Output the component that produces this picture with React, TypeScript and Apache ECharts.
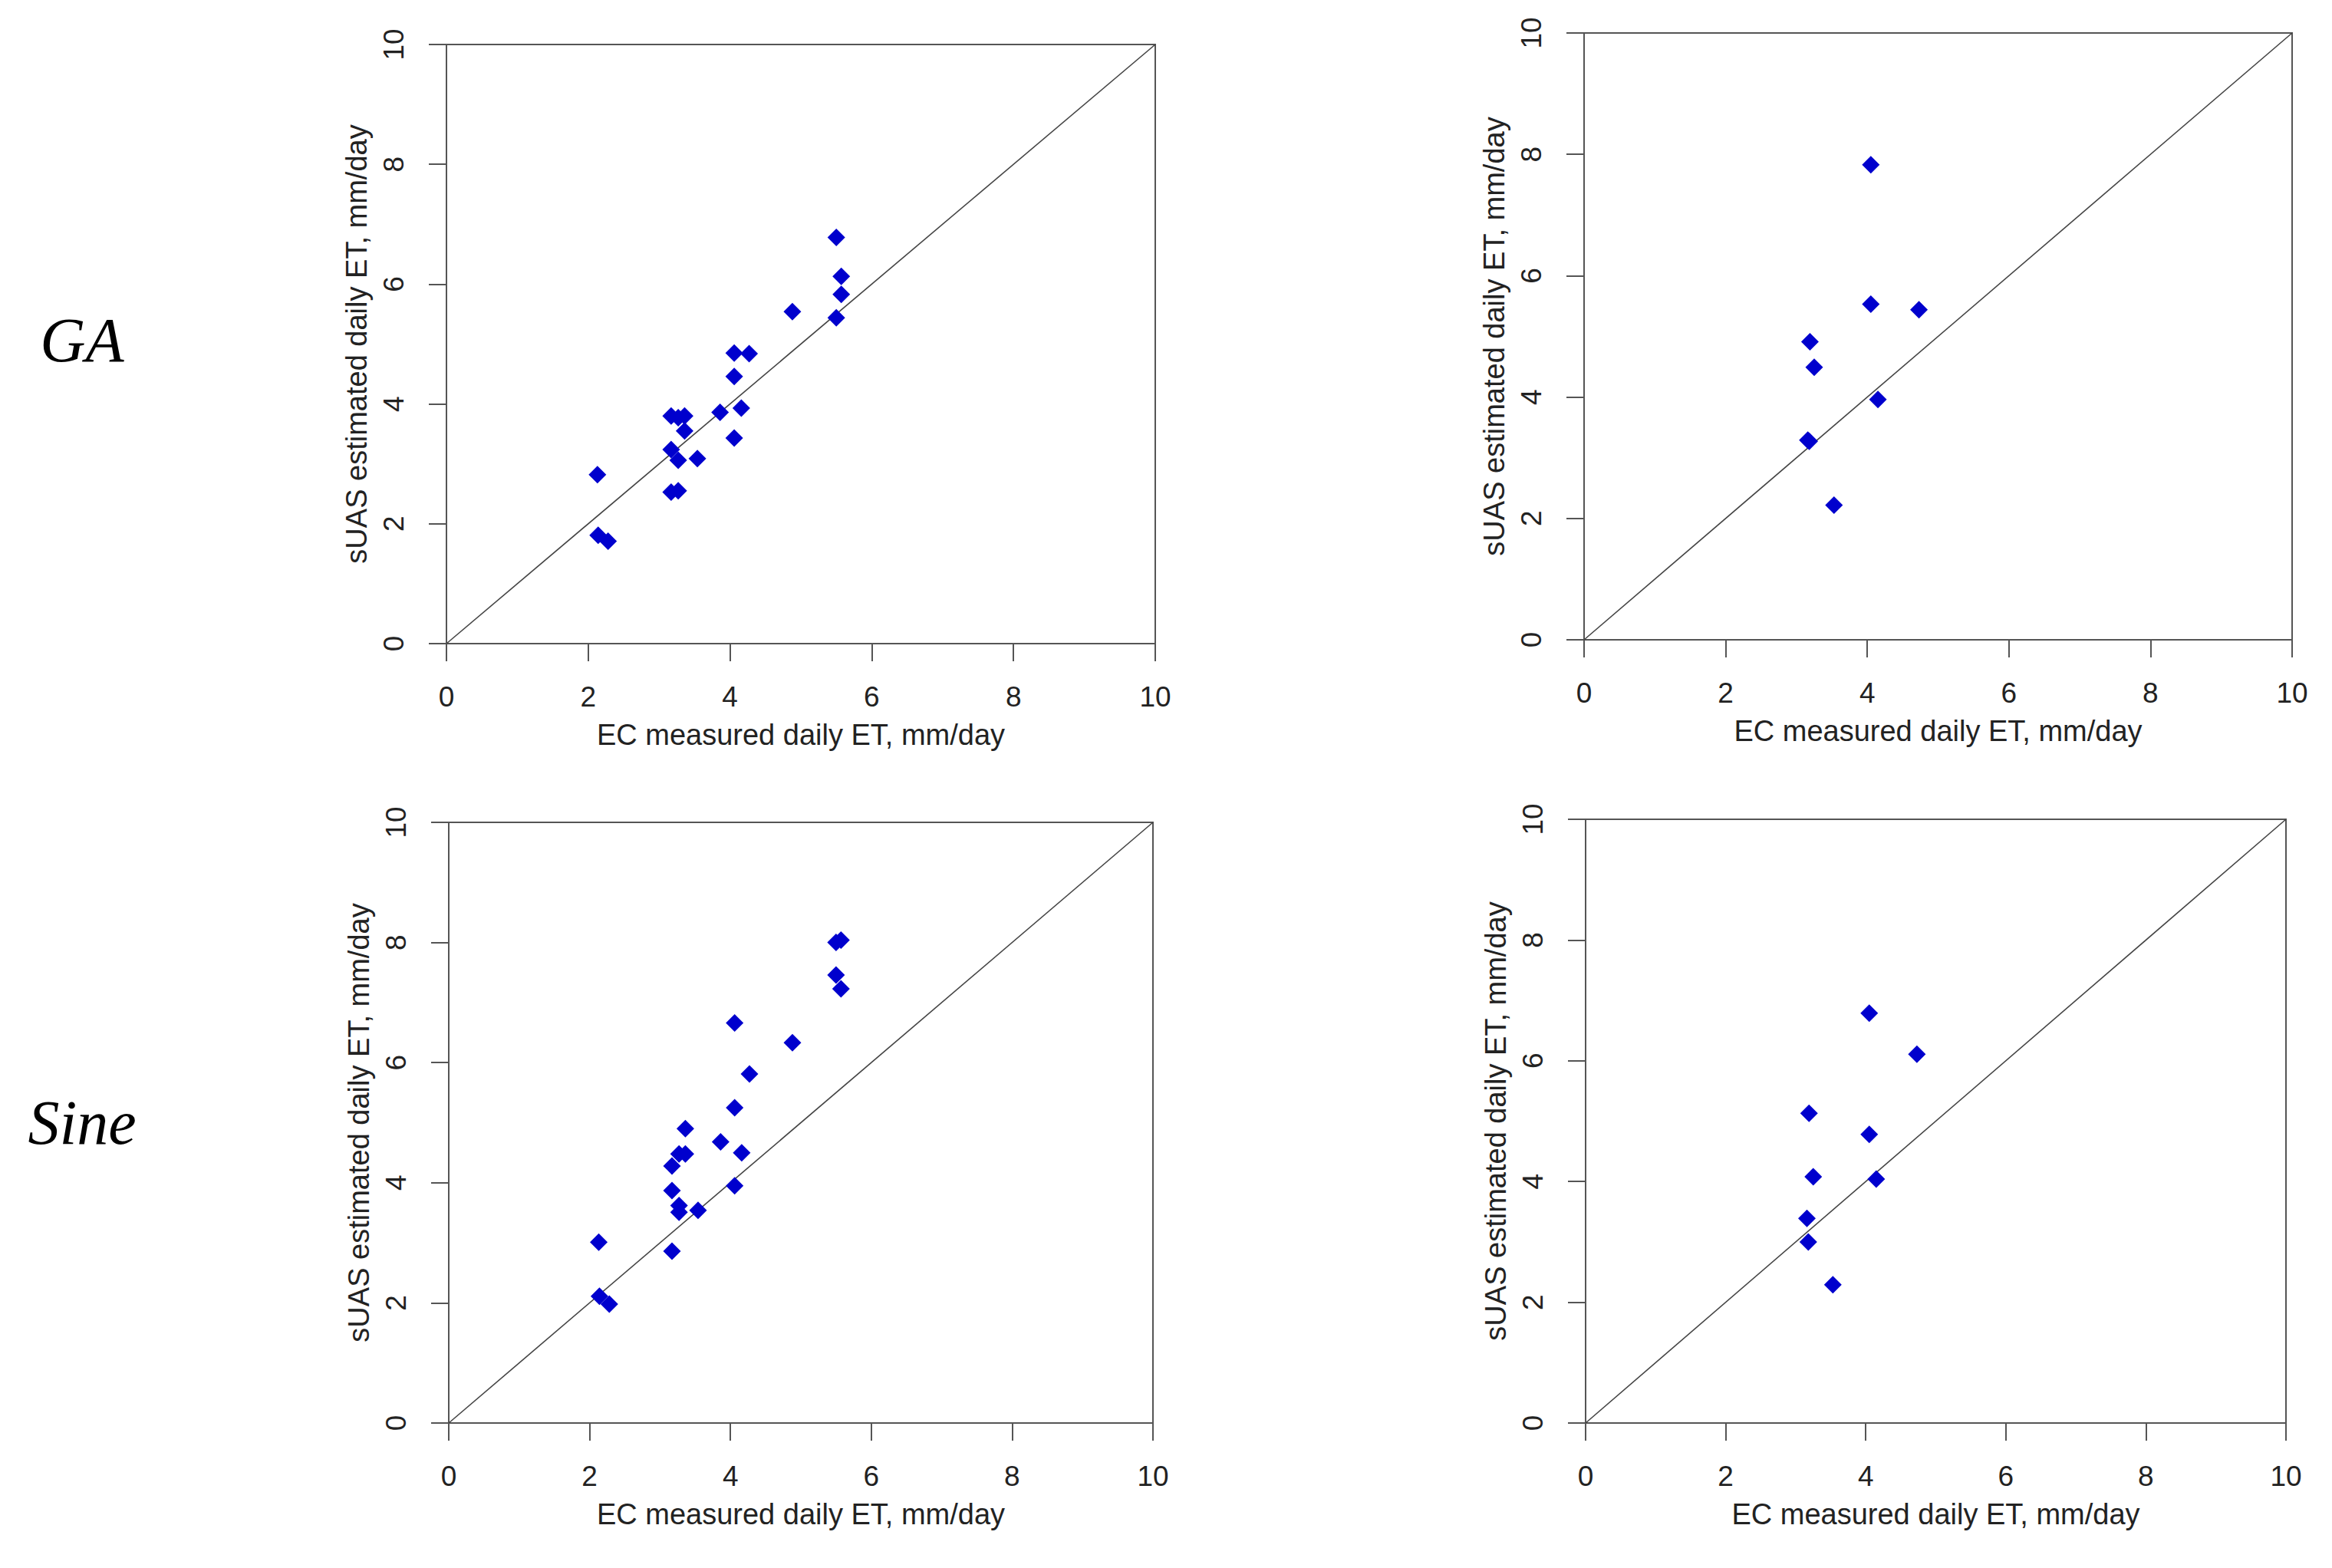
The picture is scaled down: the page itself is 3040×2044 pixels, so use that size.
import React, { useEffect, useRef } from "react";
import * as echarts from "echarts";

// EC measured daily ET (mm/day), left-hand panels
const ecLeft = [5.5, 5.5, 5.57, 5.57, 4.88, 4.06, 4.06, 4.06, 4.27, 3.86, 4.16, 3.17, 3.17, 3.17, 3.27, 3.27, 3.27, 3.36, 3.36, 3.54, 2.13, 2.14, 2.28];
// sUAS estimated daily ET, GA model, left panel
const gaLeft = [6.78, 5.44, 6.13, 5.83, 5.54, 4.85, 4.46, 3.43, 4.84, 3.86, 3.93, 3.8, 3.24, 2.53, 3.77, 3.06, 2.55, 3.8, 3.55, 3.09, 2.82, 1.81, 1.71];
// sUAS estimated daily ET, Sine model, left panel
const sineLeft = [8.0, 7.46, 8.04, 7.23, 6.33, 6.66, 5.25, 3.95, 5.81, 4.68, 4.5, 4.28, 3.87, 2.86, 4.48, 3.62, 3.51, 4.9, 4.48, 3.54, 3.01, 2.11, 1.98];

// EC measured daily ET (mm/day), right-hand panels
const ecRight = [4.05, 4.05, 4.73, 3.19, 3.25, 4.15, 3.16, 3.18, 3.53];
const gaRight = [7.83, 5.53, 5.44, 4.91, 4.49, 3.96, 3.29, 3.27, 2.22];
const sineRight = [6.79, 4.78, 6.11, 5.13, 4.08, 4.04, 3.39, 3.0, 2.29];

// 1:1 reference line
const oneToOne = [[0, 0], [10, 10]];

const rowLabels = ["GA", "Sine"];
const xTitle = "EC measured daily ET, mm/day";
const yTitle = "sUAS estimated daily ET, mm/day";

const FONT = "Liberation Sans, Arial, sans-serif";
const AXIS_COLOR = "#555";
const TEXT_COLOR = "#222";
const POINT_COLOR = "#0000CD";

const grids = [
  { left: 582, top: 58, width: 924, height: 781 },
  { left: 2065, top: 43, width: 923, height: 791 },
  { left: 585, top: 1072, width: 918, height: 783 },
  { left: 2067, top: 1068, width: 913, height: 787 },
];

const panels = [
  { x: ecLeft, y: gaLeft },
  { x: ecRight, y: gaRight },
  { x: ecLeft, y: sineLeft },
  { x: ecRight, y: sineRight },
];

export default function App() {
  const ref = useRef<HTMLDivElement>(null);

  useEffect(() => {
    document.body.style.margin = "0";
    if (!ref.current) return;
    const chart = echarts.init(ref.current, undefined, { renderer: "svg" });

    const axisCommon = {
      type: "value" as const,
      min: 0,
      max: 10,
      interval: 2,
      nameLocation: "middle" as const,
      nameTextStyle: { fontFamily: FONT, fontSize: 38, color: TEXT_COLOR, lineHeight: 38 },
      axisLine: { show: true, onZero: false, lineStyle: { color: AXIS_COLOR, width: 2 } },
      axisTick: { show: true, inside: false, length: 23, lineStyle: { color: AXIS_COLOR, width: 2 } },
      splitLine: { show: false },
    };

    const option: any = {
      animation: false,
      backgroundColor: "#ffffff",
      grid: grids.map((g) => ({ ...g, show: true, borderColor: AXIS_COLOR, borderWidth: 2, backgroundColor: "transparent" })),
      xAxis: grids.map((_, i) => ({
        ...axisCommon,
        gridIndex: i,
        name: xTitle,
        nameGap: 100,
        axisLabel: { margin: 51, fontFamily: FONT, fontSize: 37, color: TEXT_COLOR, lineHeight: 37 },
      })),
      yAxis: grids.map((_, i) => ({
        ...axisCommon,
        gridIndex: i,
        name: yTitle,
        nameGap: 98,
        nameRotate: 90,
        axisLabel: { margin: 50, rotate: 90, fontFamily: FONT, fontSize: 37, color: TEXT_COLOR, lineHeight: 37 },
      })),
      series: [
        ...panels.map((_, i) => ({
          type: "line",
          xAxisIndex: i,
          yAxisIndex: i,
          data: oneToOne,
          symbol: "none",
          silent: true,
          lineStyle: { color: "#444", width: 1.6 },
          z: 1,
        })),
        ...panels.map((p, i) => ({
          type: "scatter",
          xAxisIndex: i,
          yAxisIndex: i,
          data: p.x.map((v, k) => [v, p.y[k]]),
          symbol: "diamond",
          symbolSize: 23,
          itemStyle: { color: POINT_COLOR, opacity: 1 },
          z: 3,
        })),
      ],
      graphic: [
        {
          type: "text",
          x: 107,
          y: 443,
          style: {
            text: rowLabels[0],
            font: "italic 82px 'Liberation Serif', 'DejaVu Serif', serif",
            fill: "#000",
            align: "center",
            verticalAlign: "middle",
          },
        },
        {
          type: "text",
          x: 107,
          y: 1463,
          style: {
            text: rowLabels[1],
            font: "italic 82px 'Liberation Serif', 'DejaVu Serif', serif",
            fill: "#000",
            align: "center",
            verticalAlign: "middle",
          },
        },
      ],
    };

    chart.setOption(option);
    return () => chart.dispose();
  }, []);

  return <div ref={ref} style={{ width: 3040, height: 2044 }} />;
}
